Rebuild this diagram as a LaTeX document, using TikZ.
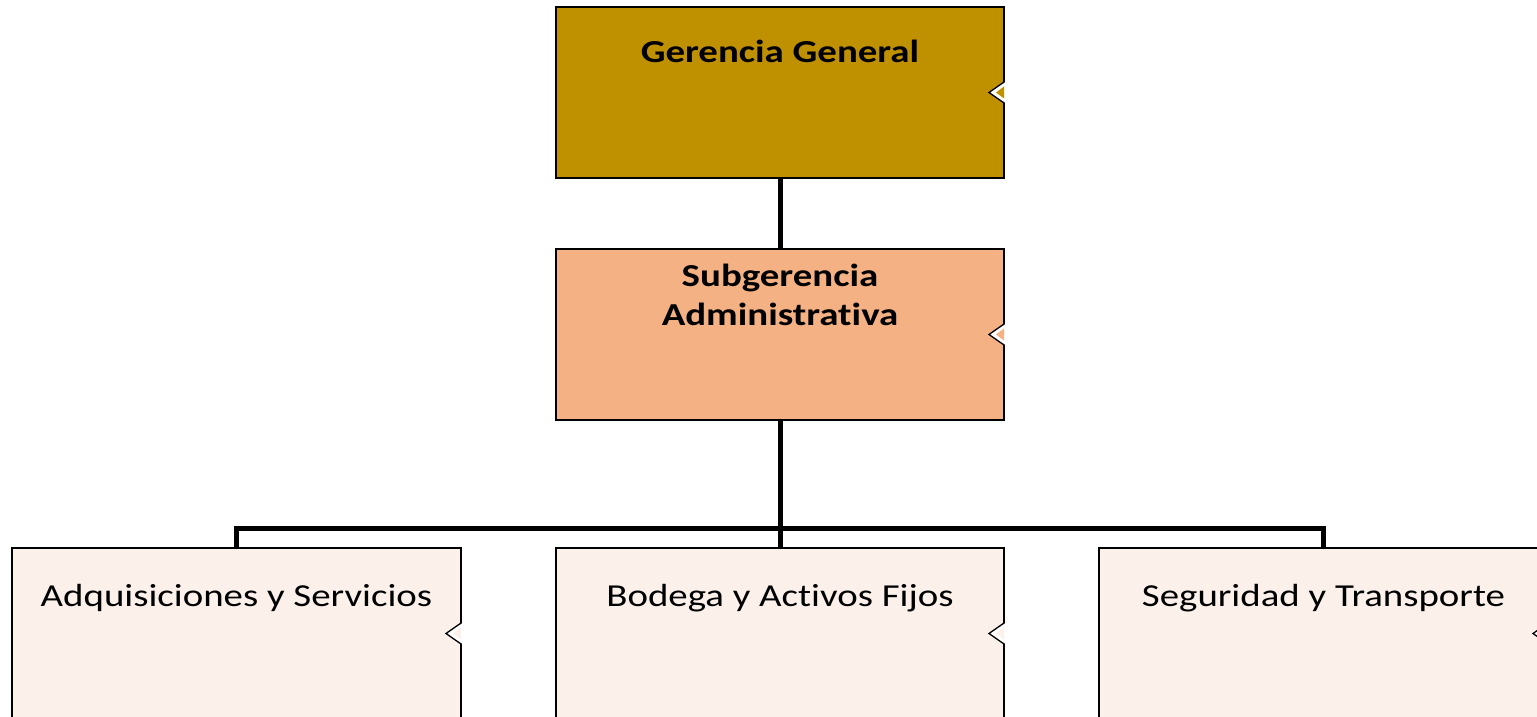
\documentclass[tikz,border=0pt]{standalone}
\usepackage{fontspec}
\setmainfont{Carlito}[FakeStretch=1.215, Ligatures=NoCommon]
\definecolor{gold}{RGB}{191,144,0}
\definecolor{salmon}{RGB}{244,177,131}
\definecolor{pale}{RGB}{251,240,234}
\tikzset{
  box/.style={draw=black, line width=1.3pt, rectangle, inner sep=0pt, outer sep=0pt},
  lbl/.style={anchor=base, inner sep=0pt, font=\fontsize{32}{39}\selectfont},
  conn/.style={draw=black, line width=5pt}
}
\newcommand{\mynotch}[2]{%
  \fill[white] ([xshift=1.5pt,yshift=10.5pt]#1.east) -- ([xshift=-15pt]#1.east) -- ([xshift=1.5pt,yshift=-10.5pt]#1.east) -- cycle;
  \draw[line width=1.3pt] ([yshift=10.5pt]#1.east) -- ([xshift=-15pt]#1.east) -- ([yshift=-10.5pt]#1.east);
  \fill[#2] ([yshift=6pt]#1.east) -- ([xshift=-8pt]#1.east) -- ([yshift=-6pt]#1.east) -- cycle;
}
\begin{document}
\begin{tikzpicture}[x=1pt,y=-1pt]
\useasboundingbox (0,0) rectangle (1537,717);
\begin{scope}
\clip (0,0) rectangle (1537,717);
\node[box, fill=gold, minimum width=448pt, minimum height=171pt] (top) at (780,92.5) {};
\node[box, fill=salmon, minimum width=448pt, minimum height=171pt] (mid) at (780,334.5) {};
\node[box, fill=pale, minimum width=449pt, minimum height=171pt] (b1) at (236.5,633.5) {};
\node[box, fill=pale, minimum width=448pt, minimum height=171pt] (b2) at (780,633.5) {};
\node[box, fill=pale, minimum width=449pt, minimum height=171pt] (b3) at (1323.5,633.5) {};
\mynotch{top}{gold}
\mynotch{mid}{salmon}
\mynotch{b1}{pale}
\mynotch{b2}{pale}
\mynotch{b3}{pale}
\coordinate (bus) at (780,528.5);
\draw[conn] (top.south) -- (mid.north);
\draw[conn] (mid.south) -- (bus);
\draw[conn] (b1.north) |- (bus) -| (b3.north);
\draw[conn] (bus) -- (b2.north);
\node[lbl] (t1) at (780,63) {\bfseries Gerencia General};
\node[lbl] (t2) at (780,286) {\bfseries Subgerencia};
\node[lbl] (t3) at (780,325) {\bfseries Administrativa};
\node[lbl] (t4) at (236.5,606) {Adquisiciones y Servicios};
\node[lbl] (t5) at (780,606) {Bodega y Activos Fijos};
\node[lbl] (t6) at (1323.5,606) {Seguridad y Transporte};
\end{scope}
\end{tikzpicture}
\end{document}
